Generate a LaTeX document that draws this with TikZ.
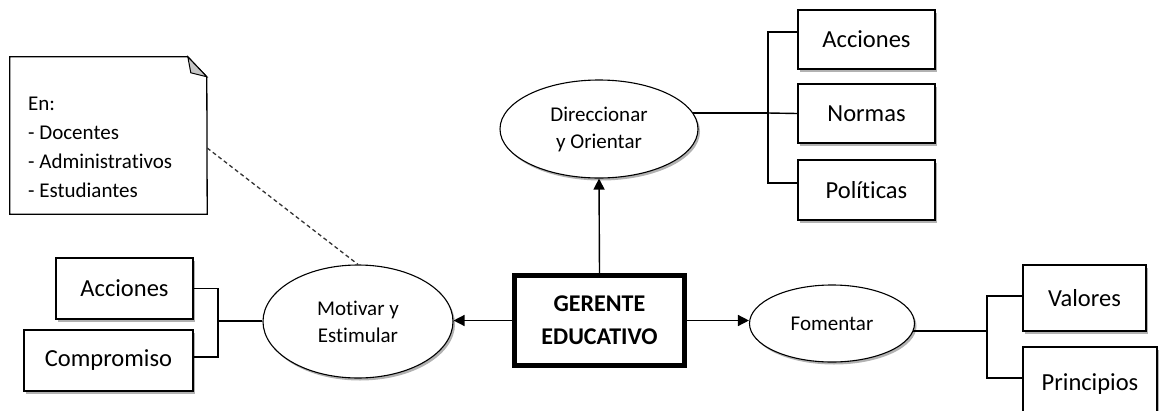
\documentclass[tikz,border=0pt]{standalone}
\usepackage{fontspec}
\setmainfont[Ligatures={NoCommon}]{Carlito}
\usetikzlibrary{arrows.meta,shapes.geometric,shadows,backgrounds}
\begin{document}
\begin{tikzpicture}[x=1pt,y=-1pt,
  sh/.style={drop shadow={shadow xshift=2pt,shadow yshift=-2.5pt,opacity=0.3,fill=black}},
  boxn/.style={draw,line width=1.4pt,fill=white,sh,inner sep=0pt,font=\fontsize{24.5}{28}\selectfont},
  ell/.style={ellipse,draw,line width=1.1pt,fill=white,sh,inner sep=0pt,align=center,font=\fontsize{21}{27}\selectfont},
  conn/.style={line width=1.4pt},
  arr/.style={line width=1.4pt,-{Triangle[length=11pt,width=11pt]}}]
\useasboundingbox (0,0) rectangle (1160,410);
% note
\node[minimum width=197pt,minimum height=157pt,inner sep=0pt] (note) at (108.5,135.5) {};
\draw[line width=1.3pt,fill=white] (note.north west) -- ++(178,0) -- ++(19,20) -- (note.south east) -- (note.south west) -- cycle;
\draw[line width=1pt,fill=gray!45] (note.north west) ++(178,0) -- ++(3,16) -- ++(16,4) -- cycle;
\node[anchor=north west,align=left,inner sep=0pt,font=\fontsize{21}{29}\selectfont] (notetext) at (28,97) {En:\\- Docentes\\- Administrativos\\- Estudiantes};
% ellipses
\node[ell,minimum width=198pt,minimum height=98pt] (dir) at (599,129) {Direccionar\\y Orientar};
\node[ell,minimum width=190pt,minimum height=113pt] (mot) at (358,321.5) {Motivar y\\Estimular};
\node[ell,minimum width=165pt,minimum height=77pt] (fom) at (832,323.5) {Fomentar};
% central
\node[draw,line width=5pt,fill=white,sh,minimum width=170pt,minimum height=90pt,align=center,inner sep=0pt,font=\fontsize{24}{33}\selectfont\bfseries] (ger) at (599.5,320.5) {GERENTE\\EDUCATIVO};
% right top boxes
\node[boxn,minimum width=137pt,minimum height=59pt] (acc) at (866.5,39.5) {Acciones};
\node[boxn,minimum width=137pt,minimum height=59pt] (nor) at (866.5,113.5) {Normas};
\node[boxn,minimum width=137pt,minimum height=60pt] (pol) at (866.5,190) {Políticas};
% right bottom boxes
\node[boxn,minimum width=123pt,minimum height=66pt] (val) at (1084.5,298) {Valores};
\node[boxn,minimum width=134pt,minimum height=78pt,text depth=0pt] (pri) at (1090,386) {\raisebox{7pt}{Principios}};
% left boxes
\node[boxn,minimum width=137pt,minimum height=61pt] (acl) at (124.5,288.5) {Acciones};
\node[boxn,minimum width=169pt,minimum height=61pt] (com) at (108.5,360.5) {Compromiso};
% connectors
\coordinate (dj) at (768,113);
\coordinate (fj) at (987,331);
\coordinate (mj) at (218,321);
\begin{scope}[on background layer]
\draw[conn] (dir.center |- dj) -- (dj);
\draw[conn] (fom.center |- fj) -- (fj);
\end{scope}
\draw[conn] (acc.west |- 0,32) -| (dj) |- (pol.west |- 0,183);
\draw[conn] (dj) -- (nor.west);
\draw[conn] (val.west |- 0,296) -| (fj) |- (pri.west |- 0,378);
\draw[conn] (acl.east) -| (mj) |- (com.east |- 0,357);
\draw[conn] (mj) -- (mot.west |- mj);
\draw[arr] (ger.north) -- (dir.south);
\draw[arr] (ger.west) -- (ger.west -| mot.east);
\draw[arr] (ger.east) -- (ger.east -| fom.west);
\draw[line width=1.3pt,dash pattern=on 4pt off 3pt,black!80] ([yshift=-12.5pt]note.east) -- (mot.north);
\end{tikzpicture}
\end{document}
